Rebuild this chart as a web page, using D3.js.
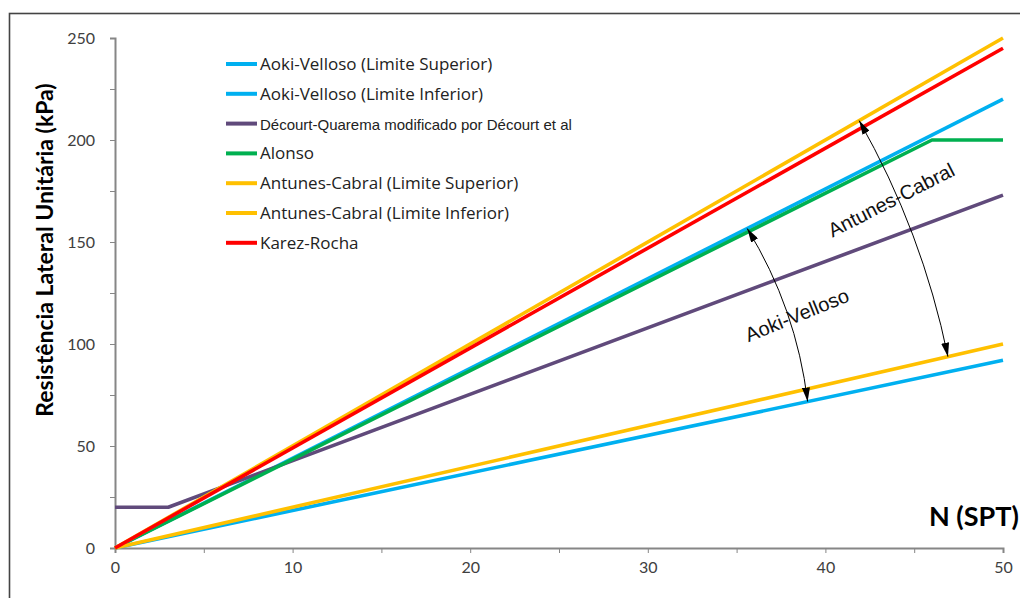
<!DOCTYPE html>
<html>
<head>
<meta charset="utf-8">
<script src="https://cdn.jsdelivr.net/npm/d3@7"></script>
<style>
  body { margin: 0; background: #fff; }
  svg { display: block; }
  .axis path, .axis line { stroke: #868686; }
  .axis text { font-family: Lato, sans-serif; font-size: 16px; fill: #404040; }
</style>
</head>
<body>
<div id="chart"></div>
<script>
// series: N (SPT) and unit skin friction (kPa)
var seriesNames = [
  "Aoki-Velloso (Limite Superior)",
  "Aoki-Velloso (Limite Inferior)",
  "Décourt-Quarema modificado por Décourt et al",
  "Alonso",
  "Antunes-Cabral (Limite Superior)",
  "Antunes-Cabral (Limite Inferior)",
  "Karez-Rocha"
];
var seriesColors = ["#00B0F0", "#00B0F0", "#604A7B", "#00B050", "#FFC000", "#FFC000", "#FF0000"];

var nLinear = [0, 50];
var aokiSup = [0, 220];
var aokiInf = [0, 92];
var decourtN = [0, 3, 50];
var decourt = [20, 20, 173];
var alonsoN = [0, 46, 50];
var alonso = [0, 200, 200];
var antunesSup = [0, 250];
var antunesInf = [0, 100];
var karez = [0, 245];

var xTicks = [0, 5, 10, 15, 20, 25, 30, 35, 40, 45, 50];
var yTicks = [0, 25, 50, 75, 100, 125, 150, 175, 200, 225, 250];

// annotation arrows: [N1, q1, N2, q2]
var arrowAoki = [35.6, 156.6, 39, 71.8];
var arrowAntunes = [41.9, 209.5, 46.9, 93.8];

var seriesN = [nLinear, nLinear, decourtN, alonsoN, nLinear, nLinear, nLinear];
var seriesV = [aokiSup, aokiInf, decourt, alonso, antunesSup, antunesInf, karez];

var W = 1020, H = 598;
var margin = { top: 38, left: 115 },
    width = 888,
    height = 510;

var x = d3.scaleLinear().domain([0, 50]).range([0, width]),
    y = d3.scaleLinear().domain([0, 250]).range([height, 0]);

var root = d3.select("#chart").append("svg")
    .attr("width", W)
    .attr("height", H);

// outer frame (cut off on the right and bottom in the original)
root.append("rect")
    .attr("x", 9.5).attr("y", 13.5)
    .attr("width", W + 20).attr("height", H + 20)
    .attr("fill", "none")
    .attr("stroke", "#444")
    .attr("stroke-width", 1.6);

var svg = root.append("g")
    .attr("transform", "translate(" + margin.left + "," + margin.top + ")");

var xAxis = svg.append("g")
    .attr("class", "axis")
    .attr("transform", "translate(0," + height + ")")
    .call(d3.axisBottom(x).tickValues(xTicks).tickSizeOuter(0).tickSize(5).tickPadding(9)
      .tickFormat(function(d) { return d % 10 === 0 ? d : ""; }));
xAxis.select(".domain").attr("stroke-width", 2);

var yAxis = svg.append("g")
    .attr("class", "axis")
    .call(d3.axisLeft(y).tickValues(yTicks).tickSizeOuter(0).tickSize(5).tickPadding(15)
      .tickFormat(function(d) { return d % 50 === 0 ? d : ""; }));
yAxis.select(".domain").attr("stroke-width", 2);

var line = d3.line()
    .x(function(d) { return x(d[0]); })
    .y(function(d) { return y(d[1]); });

seriesNames.forEach(function(name, i) {
  var pts = seriesN[i].map(function(n, j) { return [n, seriesV[i][j]]; });
  svg.append("path")
      .datum(pts)
      .attr("fill", "none")
      .attr("stroke", seriesColors[i])
      .attr("stroke-width", 3.6)
      .attr("stroke-linejoin", "round")
      .attr("d", line);
});

// legend
var legend = root.append("g").attr("transform", "translate(226,64)");
seriesNames.forEach(function(name, i) {
  var g = legend.append("g").attr("transform", "translate(0," + (i * 29.8) + ")");
  g.append("line")
      .attr("x1", 0).attr("x2", 31)
      .attr("stroke", seriesColors[i])
      .attr("stroke-width", 4);
  g.append("text")
      .attr("x", 34).attr("y", 6)
      .style("font-family", i === 2 ? "'Liberation Sans', Arial, sans-serif" : "'Open Sans', sans-serif")
      .style("font-size", i === 2 ? "15px" : "17px")
      .style("fill", "#222")
      .text(name);
});

// double headed arrows
var defs = root.append("defs");
defs.append("marker")
    .attr("id", "head")
    .attr("viewBox", "0 0 14 8")
    .attr("refX", 14).attr("refY", 4)
    .attr("markerWidth", 14).attr("markerHeight", 8)
    .attr("markerUnits", "userSpaceOnUse")
    .attr("orient", "auto-start-reverse")
    .append("path")
    .attr("d", "M0,0 L14,4 L0,8 Z")
    .attr("fill", "#000");

function arc(a, bulge) {
  var x1 = x(a[0]), y1 = y(a[1]), x2 = x(a[2]), y2 = y(a[3]);
  var mx = (x1 + x2) / 2, my = (y1 + y2) / 2;
  var dx = x2 - x1, dy = y2 - y1, len = Math.sqrt(dx * dx + dy * dy);
  var cx = mx - dy / len * bulge, cy = my + dx / len * bulge;
  return "M" + x1 + "," + y1 + " Q" + cx + "," + cy + " " + x2 + "," + y2;
}

[arrowAoki, arrowAntunes].forEach(function(a) {
  svg.append("path")
      .attr("d", arc(a, -20))
      .attr("fill", "none")
      .attr("stroke", "#000")
      .attr("stroke-width", 1)
      .attr("marker-start", "url(#head)")
      .attr("marker-end", "url(#head)");
});

// rotated labels
svg.append("text")
    .attr("transform", "translate(" + x(38.4) + "," + y(114.2) + ") rotate(-22)")
    .attr("text-anchor", "middle")
    .attr("dy", "0.35em")
    .style("font-family", "'Liberation Sans', Arial, sans-serif")
    .style("font-size", "20px")
    .style("fill", "#111")
    .text("Aoki-Velloso");

svg.append("text")
    .attr("transform", "translate(" + x(43.7) + "," + y(170.6) + ") rotate(-27)")
    .attr("text-anchor", "middle")
    .attr("dy", "0.35em")
    .style("font-family", "'Liberation Sans', Arial, sans-serif")
    .style("font-size", "20px")
    .style("fill", "#111")
    .text("Antunes-Cabral");

// axis titles
root.append("text")
    .attr("transform", "translate(53,250) rotate(-90)")
    .attr("text-anchor", "middle")
    .style("font-family", "Lato, sans-serif")
    .style("font-weight", "bold")
    .style("font-size", "23px")
    .style("fill", "#000")
    .text("Resistência  Lateral Unitária (kPa)");

root.append("text")
    .attr("x", 929).attr("y", 526)
    .style("font-family", "Lato, sans-serif")
    .style("font-weight", "bold")
    .style("font-size", "27px")
    .style("fill", "#000")
    .text("N (SPT)");
</script>
</body>
</html>
